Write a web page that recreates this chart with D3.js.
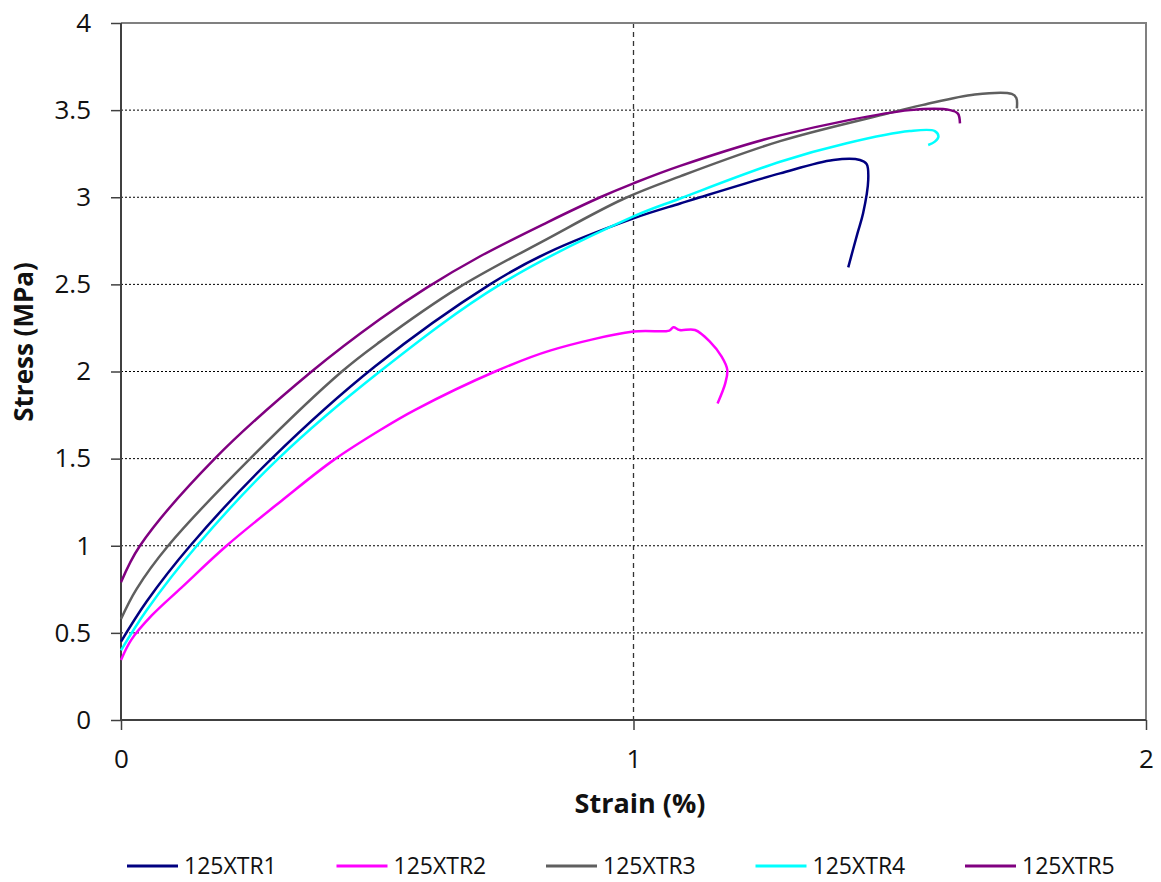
<!DOCTYPE html>
<html><head><meta charset="utf-8">
<script src="https://cdn.jsdelivr.net/npm/d3@7"></script>
<style>body{margin:0;background:#fff;} svg{display:block;font-family:"Open Sans","Noto Sans",sans-serif;}</style>
</head><body>
<svg id="chart" width="1161" height="882"></svg>
<script>
const seriesNames = ["125XTR1","125XTR2","125XTR3","125XTR4","125XTR5"];
const seriesColors = ["#000080","#FF00FF","#5F5F5F","#00FFFF","#800080"];
const xTicks = [0,1,2];
const yTicks = [0,0.5,1,1.5,2,2.5,3,3.5,4];
// [strain %, stress MPa]
const xtr1 = [[0,0.45],[0.05,0.68],[0.135,1.0],[0.294,1.5],[0.496,2.03],[0.72,2.5],[0.831,2.68],[1.0,2.879],[1.091,2.964],[1.13,3.0],[1.286,3.137],[1.39,3.214],[1.442,3.214],[1.455,3.19],[1.458,3.099],[1.448,2.908],[1.437,2.793],[1.419,2.598]];
const xtr2 = [[0,0.344],[0.02,0.46],[0.06,0.6],[0.118,0.76],[0.206,1.0],[0.314,1.26],[0.414,1.49],[0.509,1.67],[0.574,1.78],[0.73,2.0],[0.837,2.12],[1.0,2.229],[1.07,2.235],[1.078,2.254],[1.09,2.238],[1.12,2.238],[1.149,2.171],[1.172,2.085],[1.183,2.009],[1.179,1.932],[1.164,1.817]];
const xtr3 = [[0,0.58],[0.03,0.75],[0.092,1.0],[0.252,1.5],[0.431,2.0],[0.505,2.17],[0.658,2.48],[0.831,2.76],[0.98,2.99],[1.091,3.12],[1.286,3.322],[1.481,3.47],[1.565,3.53],[1.666,3.59],[1.738,3.593],[1.747,3.57],[1.748,3.51]];
const xtr4 = [[0,0.40],[0.05,0.63],[0.148,1.0],[0.307,1.5],[0.505,2.0],[0.74,2.5],[1.0,2.89],[1.091,2.993],[1.286,3.204],[1.416,3.31],[1.539,3.38],[1.588,3.38],[1.595,3.348],[1.588,3.319],[1.575,3.30]];
const xtr5 = [[0,0.79],[0.037,1.0],[0.183,1.5],[0.372,2.0],[0.505,2.3],[0.596,2.48],[0.70,2.66],[0.831,2.855],[0.935,3.0],[1.0,3.08],[1.091,3.18],[1.286,3.355],[1.54,3.50],[1.618,3.50],[1.633,3.48],[1.637,3.424]];
const seriesData = [xtr1,xtr2,xtr3,xtr4,xtr5];

const svg = d3.select("#chart");
const L=121,R=1146,T=23,B=720;
const x = d3.scaleLinear().domain([0,2]).range([L,R]);
const y = d3.scaleLinear().domain([0,4]).range([B,T]);

// horizontal gridlines
svg.append("g").selectAll("line").data(yTicks.filter(d=>d>0&&d<4)).join("line")
  .attr("x1",L).attr("x2",R).attr("y1",d=>y(d)).attr("y2",d=>y(d))
  .attr("stroke","#000").attr("stroke-width",1).attr("stroke-dasharray","2,2");
// vertical gridline
svg.append("g").selectAll("line").data(xTicks.filter(d=>d>0&&d<2)).join("line")
  .attr("x1",d=>x(d)).attr("x2",d=>x(d)).attr("y1",T).attr("y2",B)
  .attr("stroke","#333").attr("stroke-width",1.3).attr("stroke-dasharray","5,4");
// border top/right
svg.append("path").attr("d",`M${L},${T}H${R}V${B}`).attr("fill","none").attr("stroke","#808080").attr("stroke-width",2);

// axes
const yAxis = d3.axisLeft(y).tickValues(yTicks).tickFormat(d3.format("")).tickSize(10).tickPadding(20);
const gy = svg.append("g").attr("transform",`translate(${L},0)`).call(yAxis);
const xAxis = d3.axisBottom(x).tickValues(xTicks).tickFormat(d3.format("")).tickSize(10).tickPadding(20);
const gx = svg.append("g").attr("transform",`translate(0,${B})`).call(xAxis);
[gx,gy].forEach(g=>{
  g.select(".domain").attr("stroke","#404040").attr("stroke-width",2);
  g.selectAll(".tick line").attr("stroke","#404040").attr("stroke-width",1.5);
  g.selectAll(".tick text").attr("fill","#111").style("font-size","26px").style("font-family","'Open Sans',sans-serif");
});
gy.select(".domain").attr("d",`M0,${T}V${B}`);
gx.select(".domain").attr("d",`M${L},0H${R}`);

// lines
const line = d3.line().x(d=>x(d[0])).y(d=>y(d[1])).curve(d3.curveCatmullRom.alpha(0.5));
svg.append("g").selectAll("path").data(seriesData).join("path")
  .attr("d",line).attr("fill","none")
  .attr("stroke",(d,i)=>seriesColors[i]).attr("stroke-width",2.5).attr("stroke-linejoin","round");

// titles
svg.append("text").attr("x",640).attr("y",813).attr("text-anchor","middle")
  .style("font-size","27px").style("font-weight","bold").attr("fill","#111").text("Strain (%)");
svg.append("text").attr("transform",`translate(33,${342}) rotate(-90)`).attr("text-anchor","middle")
  .style("font-size","26px").style("font-weight","bold").attr("fill","#111").text("Stress (MPa)");

// legend
const lg = svg.append("g").selectAll("g").data(seriesNames).join("g")
  .attr("transform",(d,i)=>`translate(${127+i*209.5},866)`);
lg.append("line").attr("x1",0).attr("x2",51).attr("y1",0).attr("y2",0)
  .attr("stroke",(d,i)=>seriesColors[i]).attr("stroke-width",3);
lg.append("text").attr("x",57).attr("y",8).style("font-size","23px").attr("fill","#111").text(d=>d);
</script>
</body></html>
